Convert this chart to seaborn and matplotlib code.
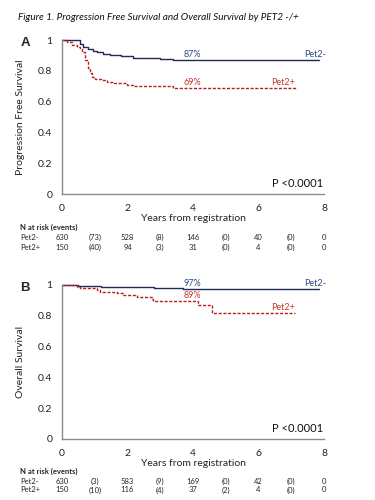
import matplotlib
matplotlib.use("Agg")
import matplotlib.pyplot as plt
import matplotlib.transforms as mtransforms
import seaborn as sns
import pandas as pd

# ---------------- data ----------------
# Panel A: progression free survival (step curves)
pfs_neg_t = [0, 0.45, 0.55, 0.65, 0.8, 0.95, 1.06, 1.25, 1.47, 1.8, 2.18, 2.6, 3.0, 3.4, 7.85]
pfs_neg_s = [1.0, 1.0, 0.975, 0.957, 0.94, 0.93, 0.92, 0.91, 0.90, 0.893, 0.886, 0.88, 0.875, 0.87, 0.87]
pfs_pos_t = [0, 0.15, 0.3, 0.45, 0.55, 0.62, 0.7, 0.78, 0.85, 0.93, 1.0, 1.2, 1.36, 1.6, 1.97, 2.18, 2.6, 3.4, 5.6, 7.14]
pfs_pos_s = [1.0, 0.99, 0.97, 0.955, 0.946, 0.92, 0.87, 0.82, 0.785, 0.76, 0.746, 0.74, 0.73, 0.72, 0.71, 0.70, 0.70, 0.69, 0.69, 0.69]

# Panel B: overall survival (step curves)
os_neg_t = [0, 0.5, 1.2, 2.0, 2.8, 3.7, 7.85]
os_neg_s = [1.0, 0.995, 0.99, 0.985, 0.98, 0.972, 0.972]
os_pos_t = [0, 0.45, 0.55, 1.06, 1.16, 1.67, 1.87, 2.28, 2.74, 2.78, 4.11, 4.16, 4.57, 7.11]
os_pos_s = [1.0, 0.99, 0.978, 0.97, 0.957, 0.946, 0.935, 0.924, 0.907, 0.896, 0.896, 0.87, 0.82, 0.82]

groups = ["Pet2-", "Pet2+"]
pfs_pct = ["87%", "69%"]
os_pct = ["97%", "89%"]
p_text = "P <0.0001"

x_ticks = [0, 2, 4, 6, 8]
y_ticks = [0, 0.2, 0.4, 0.6, 0.8, 1]
y_ticklabels = ["0", "0.2", "0.4", "0.6", "0.8", "1"]

table_years = [0, 1, 2, 3, 4, 5, 6, 7, 8]
pfs_table_neg = ["630", "(73)", "528", "(8)", "146", "(0)", "40", "(0)", "0"]
pfs_table_pos = ["150", "(40)", "94", "(3)", "31", "(0)", "4", "(0)", "0"]
os_table_neg = ["630", "(3)", "583", "(9)", "169", "(0)", "42", "(0)", "0"]
os_table_pos = ["150", "(10)", "116", "(4)", "37", "(2)", "4", "(0)", "0"]

# ---------------- style ----------------
sns.set_theme(style="white")
plt.rcParams["font.family"] = ["Lato", "DejaVu Sans"]

NAVY = "#1f2a55"
RED = "#b81c1c"
NAVY_TXT = "#2d4a85"
RED_TXT = "#c0392b"
GREY = "#8c8c8c"
W, H = 375, 500

fig = plt.figure(figsize=(3.75, 5.0), dpi=100)

fig.text(18 / W, 1 - 18 / H, "Figure 1. Progression Free Survival and Overall Survival by PET2 -/+",
         fontsize=7.2, style="italic", ha="left", va="center", color="#111111")


def make_panel(top_px, bottom_px, letter, ylabel, neg_t, neg_s, pos_t, pos_s, pct, tab_neg, tab_pos,
               pct_y, label_y, table_rows_px):
    left, right = 62, 324
    ax = fig.add_axes([left / W, 1 - bottom_px / H, (right - left) / W, (bottom_px - top_px) / H])
    df_neg = pd.DataFrame({"t": neg_t, "s": neg_s})
    df_pos = pd.DataFrame({"t": pos_t, "s": pos_s})
    sns.lineplot(data=df_neg, x="t", y="s", ax=ax, color=NAVY, lw=1.0, drawstyle="steps-post",
                 estimator=None, sort=False)
    sns.lineplot(data=df_pos, x="t", y="s", ax=ax, color=RED, lw=1.0, drawstyle="steps-post",
                 estimator=None, sort=False, linestyle=(0, (2.2, 1.2)))
    for ln in ax.lines:
        ln.set_clip_on(False)
    ax.set_xlim(0, 8)
    ax.set_ylim(0, 1)
    ax.set_xticks(x_ticks)
    ax.set_yticks(y_ticks)
    ax.set_yticklabels(y_ticklabels)
    ax.tick_params(axis="both", length=0, labelsize=7.5, colors="#222222", pad=7)
    for side in ["top", "right"]:
        ax.spines[side].set_visible(False)
    for side in ["left", "bottom"]:
        ax.spines[side].set_color(GREY)
        ax.spines[side].set_linewidth(1.0)
    ax.set_xlabel("Years from registration", fontsize=7.5, color="#222222", labelpad=1)
    ax.set_ylabel(ylabel, fontsize=7.5, color="#222222", labelpad=9)
    ax.grid(False)

    # annotations
    ax.text(3.97, pct_y[0], pct[0], color=NAVY_TXT, fontsize=6.5, ha="center", va="bottom")
    ax.text(7.72, pct_y[0], groups[0], color=NAVY_TXT, fontsize=6.5, ha="center", va="bottom")
    ax.text(3.97, pct_y[1], pct[1], color=RED_TXT, fontsize=6.5, ha="center", va="bottom")
    ax.text(6.75, label_y, groups[1], color=RED_TXT, fontsize=6.5, ha="center", va="bottom")
    ax.text(7.2, 0.03, p_text, fontsize=8, ha="center", va="bottom", color="#111111")

    fig.text(25 / W, 1 - (top_px + 3) / H, letter, fontsize=9.5, fontweight="bold",
             family="Liberation Sans", ha="center", va="center")

    # risk table
    trans = mtransforms.blended_transform_factory(ax.transData, fig.transFigure)
    hdr_y, r1_y, r2_y = table_rows_px
    fig.text(20 / W, 1 - hdr_y / H, "N at risk (events)", fontsize=5.5, fontweight="bold",
             ha="left", va="center")
    fig.text(20 / W, 1 - r1_y / H, groups[0], fontsize=5.5, ha="left", va="center")
    fig.text(20 / W, 1 - r2_y / H, groups[1], fontsize=5.5, ha="left", va="center")
    for yr, a, b in zip(table_years, tab_neg, tab_pos):
        ax.text(yr, 1 - r1_y / H, a, transform=trans, fontsize=5.5, ha="center", va="center")
        ax.text(yr, 1 - r2_y / H, b, transform=trans, fontsize=5.5, ha="center", va="center")
    return ax


make_panel(40, 194, "A", "Progression Free Survival", pfs_neg_t, pfs_neg_s, pfs_pos_t, pfs_pos_s,
           pfs_pct, pfs_table_neg, pfs_table_pos, (0.875, 0.695), 0.695, (227, 237.5, 247.5))
make_panel(285, 439, "B", "Overall Survival", os_neg_t, os_neg_s, os_pos_t, os_pos_s,
           os_pct, os_table_neg, os_table_pos, (0.978, 0.900), 0.825, (471, 481, 490))

fig.savefig("out.png", dpi=100, facecolor="white")
